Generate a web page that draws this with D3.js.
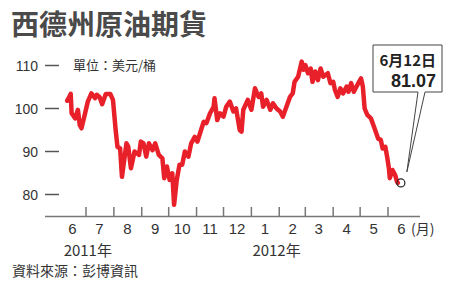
<!DOCTYPE html>
<html>
<head>
  <meta charset="utf-8" />
  <script src="https://d3js.org/d3.v7.min.js"></script>
  <style>
    body{margin:0;background:#fff;}
    text{font-family:"Liberation Sans",Arial,"Noto Sans CJK TC",sans-serif;fill:#333;}
    .cjk{font-family:"Noto Sans CJK TC","Liberation Sans",sans-serif;}
  </style>
</head>
<body>
<script>
// WTI price (date, USD/barrel)
var dates = ["2011-06-10","2011-06-12","2011-06-14","2011-06-15","2011-06-19","2011-06-22","2011-06-24","2011-06-26","2011-06-30",
  "2011-07-03","2011-07-07","2011-07-11","2011-07-13","2011-07-16","2011-07-19","2011-07-23","2011-07-28","2011-07-31",
  "2011-08-03","2011-08-05","2011-08-08","2011-08-10","2011-08-15","2011-08-17","2011-08-20","2011-08-24","2011-08-29","2011-08-31",
  "2011-09-03","2011-09-06","2011-09-09","2011-09-13","2011-09-16","2011-09-20","2011-09-24","2011-09-26","2011-09-29",
  "2011-10-02","2011-10-05","2011-10-07","2011-10-10","2011-10-13","2011-10-16","2011-10-19","2011-10-23","2011-10-26","2011-10-30",
  "2011-11-02","2011-11-06","2011-11-09","2011-11-12","2011-11-16","2011-11-20","2011-11-21","2011-11-24","2011-11-27",
  "2011-12-01","2011-12-04","2011-12-08","2011-12-12","2011-12-15","2011-12-19","2011-12-21","2011-12-23","2011-12-28",
  "2012-01-01","2012-01-05","2012-01-09","2012-01-12","2012-01-14","2012-01-18","2012-01-22","2012-01-25","2012-01-29",
  "2012-02-02","2012-02-05","2012-02-09","2012-02-13","2012-02-16","2012-02-18","2012-02-22","2012-02-26","2012-02-28",
  "2012-03-01","2012-03-04","2012-03-07","2012-03-09","2012-03-12","2012-03-15","2012-03-18","2012-03-21","2012-03-26","2012-03-29",
  "2012-04-01","2012-04-03","2012-04-06","2012-04-09","2012-04-12","2012-04-16","2012-04-18","2012-04-21","2012-04-24","2012-04-27","2012-04-29",
  "2012-05-02","2012-05-04","2012-05-06","2012-05-09","2012-05-13","2012-05-17","2012-05-21","2012-05-24","2012-05-26","2012-05-29","2012-05-31",
  "2012-06-02","2012-06-03","2012-06-06","2012-06-09","2012-06-11","2012-06-12"];
var prices = [101.8,102.5,103.4,98.9,97.7,99.7,96.2,95.4,98.9,
  101.6,103.5,102.4,103.2,102.7,101,103.4,103.4,102,
  95,91.1,90.7,84.1,91.9,91.1,86.1,90,89.2,92.3,
  91.9,88.8,91.9,90.3,91.9,89.2,88.4,83.8,86.5,
  83.4,84.9,77.6,83.4,86.9,86.9,90,88.8,91.9,93.4,
  92.3,95,96.9,96.6,98.9,100.4,102.4,97.3,98.9,
  98.1,100.4,101.6,99.3,100,95,94.6,99.7,102,
  99.7,104.7,102.7,103.5,100.4,102,99.7,101.2,100,
  99.3,98.1,100.4,102.7,103.5,106.2,107.4,110.9,109,
  110.1,108.2,109.3,106.2,108.6,106.6,109.3,107.4,108.2,105.9,
  106.2,104.3,102.7,104.7,103.5,105.1,103.9,105.9,103.9,105.1,105.9,
  107,105.1,100,98.5,97.7,95.4,93,92.7,90.7,91.1,88.8,
  86.1,83.8,85.7,84.5,83,82.7];
var yTicks = [80, 90, 100, 110];
var monthLabels = ["6","7","8","9","10","11","12","1","2","3","4","5","6"];
var yearLabels = ["2011年", "2012年"];
var lastLabel = ["6月12日", "81.07"];

var parse = d3.timeParse("%Y-%m-%d");
var data = dates.map(function(d,i){ return {date: parse(d), value: prices[i]}; });

var svg = d3.select("body").append("svg").attr("width",450).attr("height",286);

var x = d3.scaleTime().domain([new Date(2011,6,1), new Date(2012,5,1)]).range([86, 388]);
var y = d3.scaleLinear().domain([80,110]).range([194.5, 65.5]);

// title
svg.append("text").attr("class","cjk").attr("x",11).attr("y",35)
  .style("font-size","28px").style("font-weight","bold").style("fill","#4a4a4a")
  .text("西德州原油期貨");
svg.append("text").attr("class","cjk").attr("x",73).attr("y",70)
  .style("font-size","13px").text("單位：美元/桶");

// y ticks
yTicks.forEach(function(t){
  svg.append("line").attr("x1",45).attr("x2",59).attr("y1",y(t)).attr("y2",y(t))
    .style("stroke","#555").style("stroke-width",1.5);
  svg.append("text").attr("x",38).attr("y",y(t)+5).attr("text-anchor","end")
    .style("font-size","14px").text(t);
});

// x axis
svg.append("line").attr("x1",45).attr("x2",420).attr("y1",216.5).attr("y2",216.5)
  .style("stroke","#777").style("stroke-width",1.5);
var months = d3.timeMonth.range(new Date(2011,5,1), new Date(2012,6,1));
months.slice(1).forEach(function(m){
  svg.append("line").attr("x1",x(m)).attr("x2",x(m)).attr("y1",207).attr("y2",216.5)
    .style("stroke","#777").style("stroke-width",1.5);
});
months.forEach(function(m,i){
  svg.append("text").attr("x",x(d3.timeDay.offset(m,15))).attr("y",234)
    .attr("text-anchor","middle").style("font-size","15px").text(monthLabels[i]);
});
svg.append("text").attr("class","cjk").attr("x",411).attr("y",234).style("font-size","14px").text("(月)");
svg.append("text").attr("class","cjk").attr("x",x(new Date(2011,6,3))).attr("y",256)
  .attr("text-anchor","middle").style("font-size","15px").text(yearLabels[0]);
svg.append("text").attr("class","cjk").attr("x",x(new Date(2012,0,29))).attr("y",256)
  .attr("text-anchor","middle").style("font-size","15px").text(yearLabels[1]);
svg.append("text").attr("class","cjk").attr("x",12).attr("y",276)
  .style("font-size","14px").text("資料來源：彭博資訊");

// price line
var line = d3.line().x(function(d){return x(d.date);}).y(function(d){return y(d.value);});
svg.append("path").datum(data).attr("d",line)
  .style("fill","none").style("stroke","#e8202a").style("stroke-width",4.5)
  .style("stroke-linejoin","round").style("stroke-linecap","round");

// last point callout
var last = data[data.length-1];
var px = x(last.date)+3, py = y(last.value);
svg.append("path").attr("d","M373,45H442V92H425L"+(px+6)+","+(py-11)+"L418,92H373Z")
  .style("fill","#fff").style("stroke","#444").style("stroke-width",1);
svg.append("circle").attr("cx",px).attr("cy",py).attr("r",4)
  .style("fill","none").style("stroke","#222").style("stroke-width",1.2);
svg.append("text").attr("class","cjk").attr("x",436).attr("y",66).attr("text-anchor","end")
  .style("font-size","15px").style("font-weight","bold").style("fill","#222").text(lastLabel[0]);
svg.append("text").attr("x",436).attr("y",87).attr("text-anchor","end")
  .style("font-size","18px").style("font-weight","bold").style("fill","#222").text(lastLabel[1]);
</script>
</body>
</html>
